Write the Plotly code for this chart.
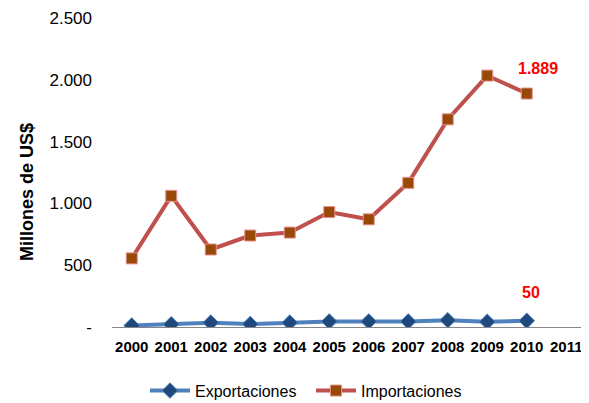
import plotly.graph_objects as go

years = ["2000", "2001", "2002", "2003", "2004", "2005", "2006", "2007", "2008", "2009", "2010", "2011"]
exportaciones = [12, 22, 35, 24, 35, 45, 45, 45, 55, 42, 50]
importaciones = [555, 1061, 627, 740, 764, 930, 871, 1166, 1680, 2034, 1889]
ytick_vals = [0, 500, 1000, 1500, 2000, 2500]
ytick_text = ["-", "500", "1.000", "1.500", "2.000", "2.500"]

FONT = "Liberation Sans, Arial, sans-serif"


def fmt(v):
    return f"{v:,}".replace(",", ".")


fig = go.Figure()
fig.add_trace(go.Scatter(
    x=years[:len(exportaciones)], y=exportaciones, name="Exportaciones",
    mode="lines+markers",
    line=dict(color="#4F81BD", width=4),
    marker=dict(symbol="diamond", size=12, color="#1F497D",
                line=dict(color="#4F81BD", width=1)),
))
fig.add_trace(go.Scatter(
    x=years[:len(importaciones)], y=importaciones, name="Importaciones",
    mode="lines+markers",
    line=dict(color="#C0504D", width=4),
    marker=dict(symbol="square", size=11, color="#984807",
                line=dict(color="#E6908E", width=1)),
))

# data labels on the last point of each series (category index used for x)
fig.add_annotation(x=len(importaciones) - 1, y=importaciones[-1],
                   text=fmt(importaciones[-1]), showarrow=False,
                   xshift=11, yshift=25,
                   font=dict(family=FONT, size=16, color="#FF0000", weight="bold"))
fig.add_annotation(x=len(exportaciones) - 1, y=exportaciones[-1],
                   text=fmt(exportaciones[-1]), showarrow=False,
                   xshift=4, yshift=28,
                   font=dict(family=FONT, size=16, color="#FF0000", weight="bold"))

fig.add_annotation(xref="paper", yref="paper", x=(19 - 104) / 474, y=0.437,
                   text="Millones de US$", textangle=-90, showarrow=False,
                   xanchor="center", yanchor="middle",
                   font=dict(family=FONT, size=18, color="#000000", weight="bold"))

fig.update_layout(
    width=581, height=403,
    margin=dict(l=104, r=3, t=10, b=71),
    paper_bgcolor="white", plot_bgcolor="white",
    font=dict(family=FONT, color="#000000"),
    showlegend=True,
    legend=dict(orientation="h", x=(137 - 104) / 474, xanchor="left",
                y=-0.206, yanchor="middle",
                font=dict(size=16), itemwidth=40, entrywidth=111,
                traceorder="normal"),
    xaxis=dict(type="category", categoryorder="array", categoryarray=years,
               range=[-0.5, len(years) - 0.5], automargin=False,
               showgrid=False, showline=True, linecolor="#868686", linewidth=1,
               ticks="", tickfont=dict(size=15, weight="bold"), zeroline=False,
               ticklabelstandoff=6),
    yaxis=dict(range=[0, 2500], tickvals=ytick_vals, ticktext=ytick_text,
               automargin=False,
               showgrid=False, showline=False, zeroline=False, ticks="",
               tickfont=dict(size=17), ticklabelstandoff=19),
)

fig.write_html("out.html")
